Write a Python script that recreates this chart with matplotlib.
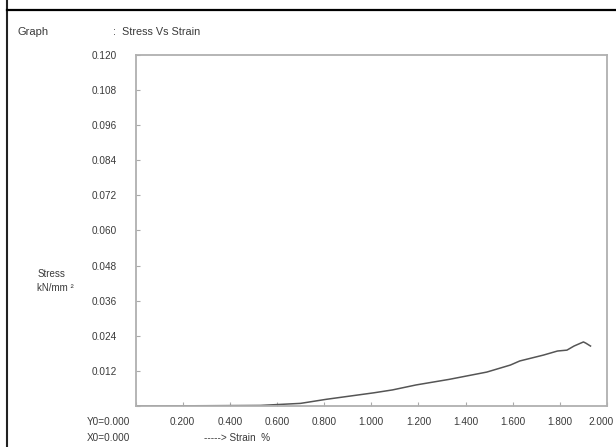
import matplotlib
matplotlib.use("Agg")
import matplotlib.pyplot as plt
from matplotlib.lines import Line2D
from matplotlib.transforms import ScaledTranslation

plt.rcParams['font.family'] = ['Liberation Sans', 'DejaVu Sans']

# Data
strain = [0.0, 0.30, 0.53, 0.70, 0.81, 0.91, 1.01, 1.09, 1.19, 1.33, 1.49,
          1.59, 1.63, 1.73, 1.79, 1.83, 1.86, 1.90, 1.91, 1.93]
stress = [0.0, 0.0001, 0.0002, 0.0009, 0.0023, 0.0034, 0.0045, 0.0055, 0.0072,
          0.0091, 0.0116, 0.0140, 0.0154, 0.0174, 0.0188, 0.0191, 0.0205,
          0.0219, 0.0215, 0.0205]

x_ticks = [0.0, 0.2, 0.4, 0.6, 0.8, 1.0, 1.2, 1.4, 1.6, 1.8, 2.0]
x_labels = ['', '0.200', '0.400', '0.600', '0.800', '1.000', '1.200', '1.400',
            '1.600', '1.800', '2.000']
y_ticks = [0.0, 0.012, 0.024, 0.036, 0.048, 0.060, 0.072, 0.084, 0.096, 0.108, 0.120]
y_labels = ['', '0.012', '0.024', '0.036', '0.048', '0.060', '0.072', '0.084',
            '0.096', '0.108', '0.120']

txt = '#3a3a3a'

fig = plt.figure(figsize=(6.16, 4.47), dpi=100)
ax = fig.add_axes([0.22, 0.0917, 0.7654, 0.7853])

ax.plot(strain, stress, color='#555555', lw=1.1)
ax.set_xlim(0, 2.0)
ax.set_ylim(0, 0.120)
ax.set_xticks(x_ticks)
ax.set_xticklabels(x_labels)
ax.set_yticks(y_ticks)
ax.set_yticklabels(y_labels)
ax.tick_params(axis='both', direction='in', length=3, width=0.8,
               color='#aaaaaa', labelsize=7.2, labelcolor=txt)
ax.tick_params(axis='x', pad=8.0)
ax.tick_params(axis='y', pad=13.5)
for s in ax.spines.values():
    s.set_color('#b0b0b0')
    s.set_linewidth(1.3)

lbls = ax.get_xticklabels()
lbls[-1].set_transform(lbls[-1].get_transform() +
                       ScaledTranslation(-6 / 100, 0, fig.dpi_scale_trans))

# Page border lines
fig.add_artist(Line2D([7 / 616, 7 / 616], [0, 1], transform=fig.transFigure,
                      color='#222222', lw=1.5))
fig.add_artist(Line2D([7 / 616, 1], [1 - 10 / 447, 1 - 10 / 447],
                      transform=fig.transFigure, color='black', lw=1.6))

def ftext(x, y, s, **kw):
    fig.text(x / 616, 1 - y / 447, s, color=txt, va='center', **kw)

ftext(18, 32, 'Graph', fontsize=8)
ftext(113, 32, ':  Stress Vs Strain', fontsize=7.8)
ftext(38, 274, 'Stress', fontsize=7)
ftext(37, 288, 'kN/mm ²', fontsize=7)
ftext(130, 422, 'Y0=0.000', fontsize=7.2, ha='right')
ftext(130, 438, 'X0=0.000', fontsize=7.2, ha='right')
ftext(204, 438, '-----> Strain  %', fontsize=7.2)

fig.savefig('out.png', dpi=100)
